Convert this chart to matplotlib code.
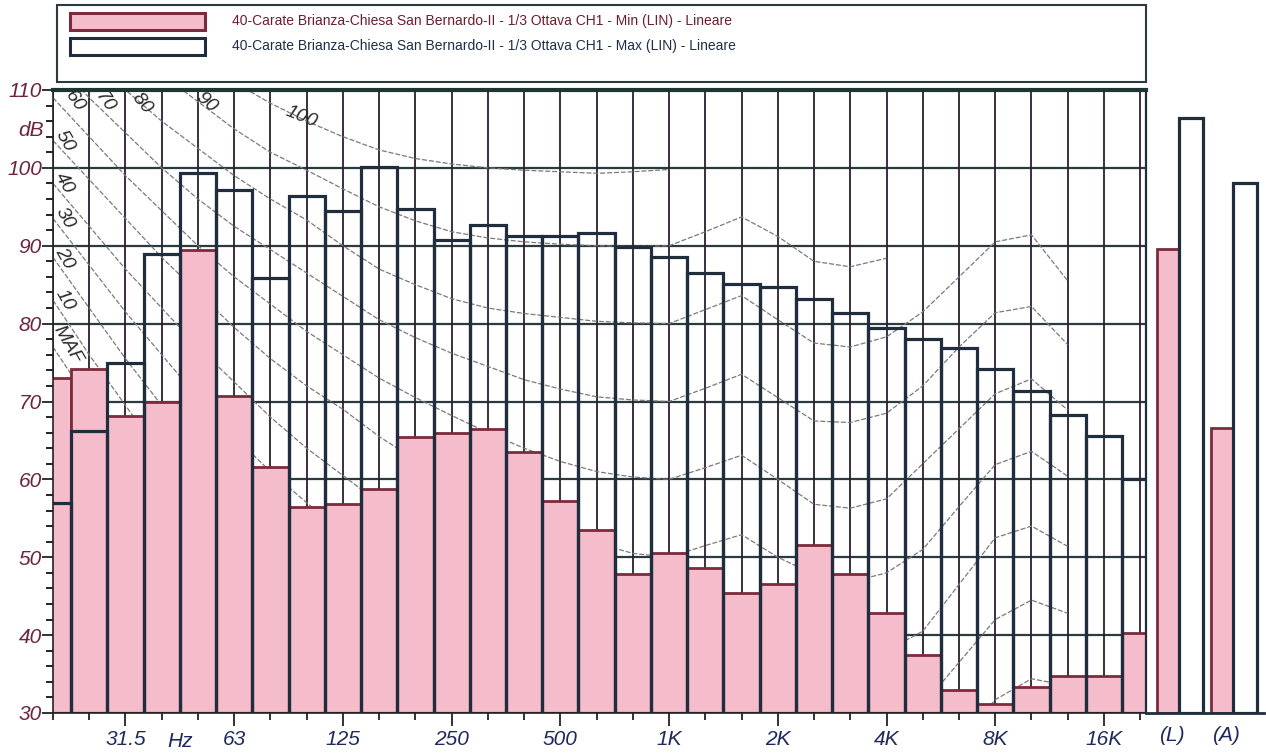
import numpy as np
import matplotlib
matplotlib.use('Agg')
import matplotlib.pyplot as plt
from matplotlib.patches import Rectangle
from matplotlib.ticker import MultipleLocator

plt.rcParams['font.family'] = ['Liberation Sans', 'DejaVu Sans']

# ---------------- data ----------------
bands = ['20', '25', '31.5', '40', '50', '63', '80', '100', '125', '160', '200',
         '250', '315', '400', '500', '630', '800', '1K', '1.25K', '1.6K', '2K',
         '2.5K', '3.15K', '4K', '5K', '6.3K', '8K', '10K', '12.5K', '16K', '20K']
min_vals = [73.0, 74.2, 68.2, 70.0, 89.4, 70.7, 61.6, 56.4, 56.8, 58.7, 65.4,
            66.0, 66.5, 63.5, 57.2, 53.5, 47.9, 50.6, 48.6, 45.4, 46.6,
            51.6, 47.9, 42.8, 37.4, 32.9, 31.2, 33.4, 34.7, 34.7, 40.3]
max_vals = [57.0, 66.2, 74.9, 89.0, 99.3, 97.2, 85.8, 96.4, 94.5, 100.1, 94.7,
            90.8, 92.7, 91.3, 91.3, 91.6, 89.9, 88.6, 86.5, 85.1, 84.7,
            83.1, 81.4, 79.5, 78.0, 76.9, 74.2, 71.4, 68.3, 65.6, 60.1]
labeled_bands = ['31.5', '63', '125', '250', '500', '1K', '2K', '4K', '8K', '16K']

overall_cats = ['(L)', '(A)']
overall_min = [89.6, 66.6]
overall_max = [106.4, 98.1]

series_names = [
    '40-Carate Brianza-Chiesa San Bernardo-II - 1/3 Ottava CH1 - Min (LIN) - Lineare',
    '40-Carate Brianza-Chiesa San Bernardo-II - 1/3 Ottava CH1 - Max (LIN) - Lineare',
]

# equal-loudness contours, 20 Hz .. 12.5 kHz (dB), nan where not drawn
nan = np.nan
phon_100 = [nan, nan, nan, nan, 114, 111, 108.3, 106, 104, 102.3, 101.2, 100.5, 100,
            99.7, 99.5, 99.3, 99.5, 99.8, nan, nan, nan, nan, nan, nan, nan, nan,
            nan, nan, nan]
phon_90 = [nan, nan, nan, 112, 108.5, 105, 102, 99.7, 97.3, 95, 93.2, 91.8, 91, 90.5,
           90.2, 90, 89.9, 90, 91.8, 93.7, 91.2, 88, 87.3, 88.4, nan, nan, nan, nan, nan]
phon_80 = [119, 114.5, 110, 106, 102.5, 99, 96, 93.3, 90, 87, 85, 83.2, 82, 81.3, 80.8,
           80.3, 80.1, 80, 81.8, 83.6, 80.5, 77.5, 77, 78.3, 81.5, 86, 90.5, 91.4, 85.5]
phon_70 = [114, 109, 104.5, 100, 96, 92.5, 89.5, 86.5, 83.5, 80.5, 78.2, 76.2, 74.5,
           72.8, 71.6, 70.6, 70.2, 70, 71.7, 73.5, 70.5, 67.5, 67.3, 68.5, 72, 77,
           81.4, 82.2, 77.3]
phon_60 = [109, 104, 99, 94.5, 90, 86, 82.5, 79, 76, 73, 70.5, 68.2, 66, 64, 62.3, 61,
           60.3, 60, 61.5, 63.1, 60, 56.8, 56.3, 57.5, 62, 66.5, 71, 72.9, 68.9]
phon_50 = [103.5, 98.5, 93.5, 88.5, 84, 79.5, 75.5, 72, 69, 65.5, 62.5, 60, 57.8, 55.5,
           53.5, 51.8, 50.5, 50, 51.5, 52.9, 50, 47.8, 46.8, 48, 51, 56.5, 61.9, 63.6, 60.4]
phon_40 = [98, 92.5, 87, 82, 77, 72.5, 68, 64, 60.5, 57, 54, 51.3, 49, 46.8, 44.8, 42.8,
           41, 40, 41.3, 42.7, 40, 37.8, 36.8, 38, 40.5, 46.5, 52.5, 54, 51.4]
phon_30 = [93.5, 87.5, 81.5, 76, 70.5, 65.5, 61, 57, 53, 49.5, 46, 43.3, 40.8, 38.5,
           36.3, 34.2, 31.5, 30, 31.2, 32.5, 30, 28, 27, 28, 31, 36.5, 42, 44.5, 42.8]
phon_20 = [88.5, 82, 75.5, 69.5, 63.5, 58, 53, 48.5, 44.5, 40.5, 37, 34, 31.5, 29, 27,
           25, 23, 20, 21, 22.5, 20, 18, 17, 18, 21, 26.5, 31.7, 34.4, 33.5]
phon_10 = [83, 76, 69.5, 63, 56.5, 50.5, 45, 40, 35.5, 31.5, 28, 25, 22, 19.5, 17, 15,
           12, 10, 11, 12.5, 10, 8, 7, 8, 11, 16.5, 21.5, 24.5, 24]
phon_maf = [77, 70, 63, 56.5, 50, 44, 38.5, 33.5, 29, 25, 21.5, 18, 15, 12, 10, 8, 6, 4,
            4, 4, 2, 0, -1, 0, 3, 8, 12, 15, 15]
curves = [phon_100, phon_90, phon_80, phon_70, phon_60, phon_50, phon_40, phon_30,
          phon_20, phon_10, phon_maf]
top_curve_labels = ['100', '90', '80', '70', '60']
left_curve_labels = ['50', '40', '30', '20', '10', 'MAF']

# ---------------- style ----------------
PINK = '#f5bccc'
MAROON = '#7b2b3b'
NAVY = '#1f2d3d'
GRID = '#2b3a3f'
VGRID = '#2a1f2f'
YLAB = '#6a2340'
XLAB = '#1f2a5a'
FS = 15

W, H = 1266, 756
fig = plt.figure(figsize=(W / 100, H / 100), dpi=100)
fig.patch.set_facecolor('white')

ax = fig.add_axes([53 / W, 1 - 713 / H, (1146 - 53) / W, (713 - 90) / H])
x = np.arange(len(bands))
ax.set_xlim(0.074, 30.16)
ax.set_ylim(30, 110)

# grid
for yv in range(40, 110, 10):
    ax.axhline(yv, color=GRID, lw=1.6, zorder=1)
for xv in x:
    ax.axvline(xv, color=VGRID, lw=1.3, zorder=1)

# loudness contours
xc = np.arange(len(phon_80))
for c in curves:
    ax.plot(xc, c, color='#7a7a7a', lw=0.9, ls=(0, (4, 1.5)), zorder=1.5)

# bars
ax.bar(x, np.array(min_vals) - 30, bottom=30, width=1.0, color=PINK,
       edgecolor=MAROON, linewidth=2.0, zorder=2)
ax.bar(x, np.array(max_vals) - 30, bottom=30, width=1.0, fill=False,
       edgecolor=NAVY, linewidth=2.3, zorder=3)

# curve labels
lab_kw = dict(fontstyle='italic', fontsize=14, color='#2a2a2a', ha='center',
              va='center', zorder=5, clip_on=False)
top_pos = [(6.85, 106.6, -22), (4.25, 108.4, -40), (2.45, 108.3, -50),
           (1.42, 108.4, -55), (0.6, 108.5, -55)]
for (px, py, rot), lab in zip(top_pos, top_curve_labels):
    ax.text(px, py, lab, rotation=rot, **lab_kw)
left_pos = [(0.32, 103.4), (0.32, 98.1), (0.32, 93.6), (0.32, 88.4), (0.32, 83.0),
            (0.40, 77.3)]
for (px, py), lab in zip(left_pos, left_curve_labels):
    ax.text(px, py, lab, rotation=-60, **lab_kw)

# spines
ax.spines['top'].set_linewidth(3.0)
ax.spines['top'].set_color('#1d3535')
ax.spines['right'].set_linewidth(1.6)
ax.spines['right'].set_color(NAVY)
ax.spines['left'].set_linewidth(1.2)
ax.spines['left'].set_color('#222222')
ax.spines['bottom'].set_linewidth(1.2)
ax.spines['bottom'].set_color('#222222')
for s in ax.spines.values():
    s.set_zorder(6)

# y ticks
ax.set_yticks(range(30, 111, 10))
ax.set_yticklabels([str(v) for v in range(30, 111, 10)], fontstyle='italic',
                   fontsize=FS, color=YLAB)
ax.yaxis.set_minor_locator(MultipleLocator(2))
ax.tick_params(axis='y', which='major', length=8, width=1.3, color='#222222', pad=0)
ax.tick_params(axis='y', which='minor', length=5, width=1.4, color='#222222')
fig.text(44 / W, 1 - 131 / H, 'dB', fontstyle='italic', fontsize=FS, color=YLAB,
         ha='right', va='center')

# x ticks
major_idx = [bands.index(b) for b in labeled_bands]
minor_idx = [i for i in x if i not in major_idx]
ax.set_xticks(major_idx)
ax.set_xticklabels(labeled_bands, fontstyle='italic', fontsize=FS, color=XLAB)
ax.set_xticks(minor_idx, minor=True)
ax.tick_params(axis='x', which='major', length=9, width=1.3, color='#222222', pad=3)
ax.tick_params(axis='x', which='minor', length=5, width=1.3, color='#222222')
ax.text(3.5, -0.046, 'Hz', transform=ax.get_xaxis_transform(), fontstyle='italic',
        fontsize=FS, color=XLAB, ha='center', va='center')

# overall (L)/(A) bars
ax2 = fig.add_axes([1146 / W, 1 - 713 / H, 118 / W, (713 - 90) / H])
pos = np.arange(len(overall_cats))
ax2.set_xlim(-0.62, 1.565)
ax2.set_ylim(30, 110)
ax2.patch.set_alpha(0)
ax2.bar(pos - 0.21, np.array(overall_min) - 30, bottom=30, width=0.40, color=PINK,
        edgecolor=MAROON, linewidth=2.0, zorder=2)
ax2.bar(pos + 0.22, np.array(overall_max) - 30, bottom=30, width=0.44, fill=False,
        edgecolor=NAVY, linewidth=2.3, zorder=3)
for s in ['top', 'right', 'left']:
    ax2.spines[s].set_visible(False)
ax2.spines['bottom'].set_color(NAVY)
ax2.spines['bottom'].set_linewidth(2.0)
ax2.set_yticks([])
ax2.set_xticks(pos - 0.14)
ax2.set_xticklabels(overall_cats, fontstyle='italic', fontsize=FS, color=XLAB)
ax2.tick_params(axis='x', length=0, pad=9.5)

# legend box
fig.add_artist(Rectangle((57 / W, 1 - 82 / H), (1146 - 57) / W, 77 / H,
                         transform=fig.transFigure, fill=False, ec=GRID, lw=1.5))
fig.add_artist(Rectangle((70 / W, 1 - 30 / H), 135 / W, 17 / H, transform=fig.transFigure,
                         fc=PINK, ec=MAROON, lw=2.2))
fig.add_artist(Rectangle((70 / W, 1 - 55 / H), 135 / W, 17 / H, transform=fig.transFigure,
                         fc='white', ec=NAVY, lw=2.2))
fig.text(232 / W, 1 - 21 / H, series_names[0], fontsize=10, color='#6b1e2e', va='center')
fig.text(232 / W, 1 - 46 / H, series_names[1], fontsize=10, color='#1e2d4a', va='center')

fig.savefig('out.png', dpi=100)
